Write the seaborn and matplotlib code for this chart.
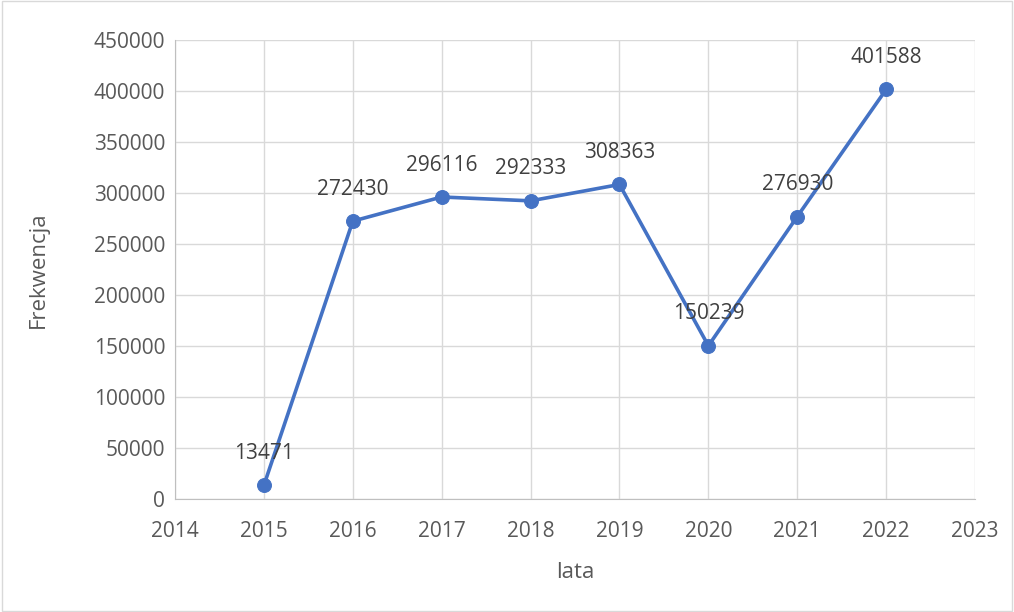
import matplotlib
matplotlib.use("Agg")
import matplotlib.pyplot as plt
import seaborn as sns
import pandas as pd

# Frekwencja per year
years = [2015, 2016, 2017, 2018, 2019, 2020, 2021, 2022]
visitors = [13471, 272430, 296116, 292333, 308363, 150239, 276930, 401588]

df = pd.DataFrame({"lata": years, "Frekwencja": visitors})

sns.set_style("white")
plt.rcParams["font.family"] = ["Open Sans", "DejaVu Sans"]

fig = plt.figure(figsize=(10.14, 6.12), dpi=100)
ax = fig.add_axes([0.1726, 0.1846, 0.7890, 0.7500])

sns.lineplot(data=df, x="lata", y="Frekwencja", color="#4472C4", linewidth=2.6,
             marker="o", markersize=10, markeredgecolor="#4472C4", ax=ax)

for x, y in zip(years, visitors):
    ax.annotate(str(y), (x, y), xytext=(0, 23), textcoords="offset points",
                ha="center", va="center", fontsize=15, color="#404040")

ax.set_xlim(2014, 2023)
ax.set_ylim(0, 450000)
ax.set_xticks(range(2014, 2024))
ax.set_yticks(range(0, 450001, 50000))
ax.grid(True, color="#d9d9d9", linewidth=1)
ax.set_axisbelow(True)
for s in ["top", "right"]:
    ax.spines[s].set_visible(False)
ax.spines["bottom"].set_color("#bfbfbf")
ax.spines["left"].set_color("#bfbfbf")
ax.tick_params(axis="both", length=0, labelsize=15, labelcolor="#595959")
ax.tick_params(axis="y", pad=7)
ax.tick_params(axis="x", pad=16)

ax.set_xlabel("lata", fontsize=16, color="#595959", labelpad=14)
ax.set_ylabel("Frekwencja", fontsize=16, color="#595959", labelpad=32)

# chart border
fig.patches.append(plt.Rectangle((0.002, 0.002), 0.996, 0.996, transform=fig.transFigure,
                                 fill=False, edgecolor="#d9d9d9", linewidth=1))

plt.savefig("out.png", dpi=100)
plt.close()
